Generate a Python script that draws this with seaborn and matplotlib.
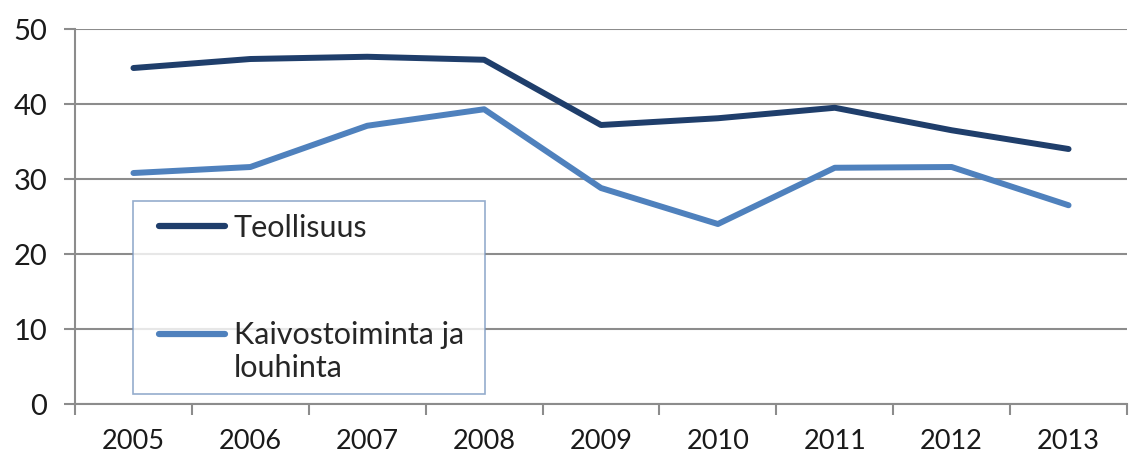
import matplotlib
matplotlib.use("Agg")
import matplotlib.pyplot as plt
import pandas as pd
import seaborn as sns

sns.set_style("white")
plt.rcParams['font.family'] = ['Lato', 'DejaVu Sans']

years = ["2005", "2006", "2007", "2008", "2009", "2010", "2011", "2012", "2013"]
teollisuus = [44.8, 46.0, 46.3, 45.9, 37.2, 38.1, 39.5, 36.5, 34.0]
kaivos = [30.8, 31.6, 37.1, 39.3, 28.8, 24.0, 31.5, 31.6, 26.5]
series_names = ["Teollisuus", "Kaivostoiminta ja\nlouhinta"]
colors = ["#1F3E6B", "#4F81BD"]

df = pd.DataFrame({
    "pos": list(range(len(years))) * 2,
    "value": teollisuus + kaivos,
    "series": [series_names[0]] * len(years) + [series_names[1]] * len(years),
})

fig = plt.figure(figsize=(11.33, 4.59), dpi=100)
ax = fig.add_axes([0.0662, 0.1198, 0.9285, 0.8170])

sns.lineplot(data=df, x="pos", y="value", hue="series", palette=colors,
             linewidth=4.3, ax=ax, solid_capstyle="round")

ax.set_xlim(-0.5, len(years) - 0.5)
ax.set_ylim(0, 50)
ax.set_yticks(range(0, 51, 10))
ax.set_xticks(range(len(years)))
ax.set_xticklabels(years)
ax.set_xticks([i - 0.5 for i in range(len(years) + 1)], minor=True)
ax.set_xlabel("")
ax.set_ylabel("")
ax.yaxis.grid(True, color="#8c8c8c", linewidth=1.5)
ax.set_axisbelow(True)
for s in ["top", "right"]:
    ax.spines[s].set_visible(False)
for s in ["left", "bottom"]:
    ax.spines[s].set_color("#8c8c8c")
    ax.spines[s].set_linewidth(1.5)
ax.tick_params(axis="x", which="major", length=0, labelsize=19.5, pad=18, labelcolor="#1a1a1a")
ax.tick_params(axis="x", which="minor", length=8, width=1.5, color="#8c8c8c", direction="out")
ax.tick_params(axis="y", which="major", length=8, width=1.5, color="#8c8c8c",
               direction="out", labelsize=21, labelcolor="#1a1a1a", pad=12)
ax.tick_params(bottom=True, left=True, which="both")

leg = ax.legend(loc="lower left", bbox_to_anchor=(0.055, 0.027, 0.335, 0.509),
                mode="expand", borderaxespad=0, fontsize=22, frameon=True,
                fancybox=False, handlelength=2.6, handletextpad=0.3,
                labelspacing=2.6, borderpad=0.4)
leg.get_frame().set_edgecolor("#7a98c0")
leg.get_frame().set_linewidth(1.2)
for i, line in enumerate(leg.get_lines()):
    line.set_linewidth(4.5)
    line.set_solid_capstyle("round")
    xd = list(line.get_xdata())
    yd = list(line.get_ydata())
    shift = 13 if i == 1 else 0
    line.set_data([xd[0] + 10, xd[-1]], [yd[0] + shift, yd[-1] + shift])

fig.savefig("out.png", dpi=100)
